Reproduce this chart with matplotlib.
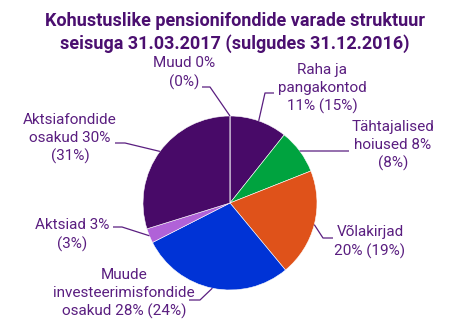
import numpy as np
import matplotlib
matplotlib.use("Agg")
import matplotlib.pyplot as plt

categories = ["Raha ja\npangakontod", "Tähtajalised\nhoiused", "Võlakirjad",
              "Muude\ninvesteerimisfondide\nosakud", "Aktsiad",
              "Aktsiafondide\nosakud", "Muud"]
values = [10.7, 8.3, 20.0, 28.5, 2.7, 29.8, 0.0]
pct_2017 = [11, 8, 20, 28, 3, 30, 0]
pct_2016 = [15, 8, 19, 24, 3, 31, 0]
colors = ["#480a68", "#00a33f", "#df521a", "#0033d6", "#b062d8", "#480a68", "#480a68"]

label_texts = [
    "Raha ja\npangakontod\n{}% ({}%)",
    "Tähtajalised\nhoiused {}%\n({}%)",
    "Võlakirjad\n{}% ({}%)",
    "Muude\ninvesteerimisfondide\nosakud {}% ({}%)",
    "Aktsiad {}%\n({}%)",
    "Aktsiafondide\nosakud {}%\n({}%)",
    "Muud {}%\n({}%)",
]

W, H = 456, 336
fig = plt.figure(figsize=(W / 100, H / 100), dpi=100)
ax = fig.add_axes([0, 0, 1, 1])

cx, cy, R = 230, H - 203, 87
wedges, _ = ax.pie(values, colors=colors, startangle=90, counterclock=False,
                   center=(cx, cy), radius=R, frame=True,
                   wedgeprops=dict(edgecolor="white", linewidth=0.4))
ax.set_xlim(0, W)
ax.set_ylim(0, H)
ax.set_aspect("equal")
ax.axis("off")

txt_col = "#5a1e80"
font = "Roboto"

# layout: (text center x, text top y in px, elbow px, end px)
layout = [
    (322, 63, (265, 93), (274, 93)),
    (393, 120, (300, 151), (349, 151)),
    (370, 225, (323, 238), (333, 238)),
    (124, 268, (200, 300), (189, 300)),
    (72, 218, (122, 227), (113, 227)),
    (70, 113, (125, 143), (115, 143)),
    (184, 56, (210, 87), (202, 87)),
]

for w, txt, p1, p2, (tx, ty, elbow, end) in zip(
        wedges, label_texts, pct_2017, pct_2016, layout):
    mid = np.deg2rad((w.theta1 + w.theta2) / 2)
    ax_x = cx + R * np.cos(mid)
    ax_y = cy + R * np.sin(mid)
    ax.plot([ax_x, elbow[0], end[0]], [ax_y, H - elbow[1], H - end[1]],
            color=txt_col, lw=0.9, solid_capstyle="butt")
    ax.text(tx, H - ty, txt.format(p1, p2), ha="center", va="top", color=txt_col,
            fontsize=11, family=font, linespacing=1.35)

ax.text(235, H - 12, "Kohustuslike pensionifondide varade struktuur\nseisuga 31.03.2017 (sulgudes 31.12.2016)",
        ha="center", va="top", color="#4b0f70", fontsize=13, fontweight="bold",
        family=font, linespacing=1.28)

fig.savefig("out.png", dpi=100)
